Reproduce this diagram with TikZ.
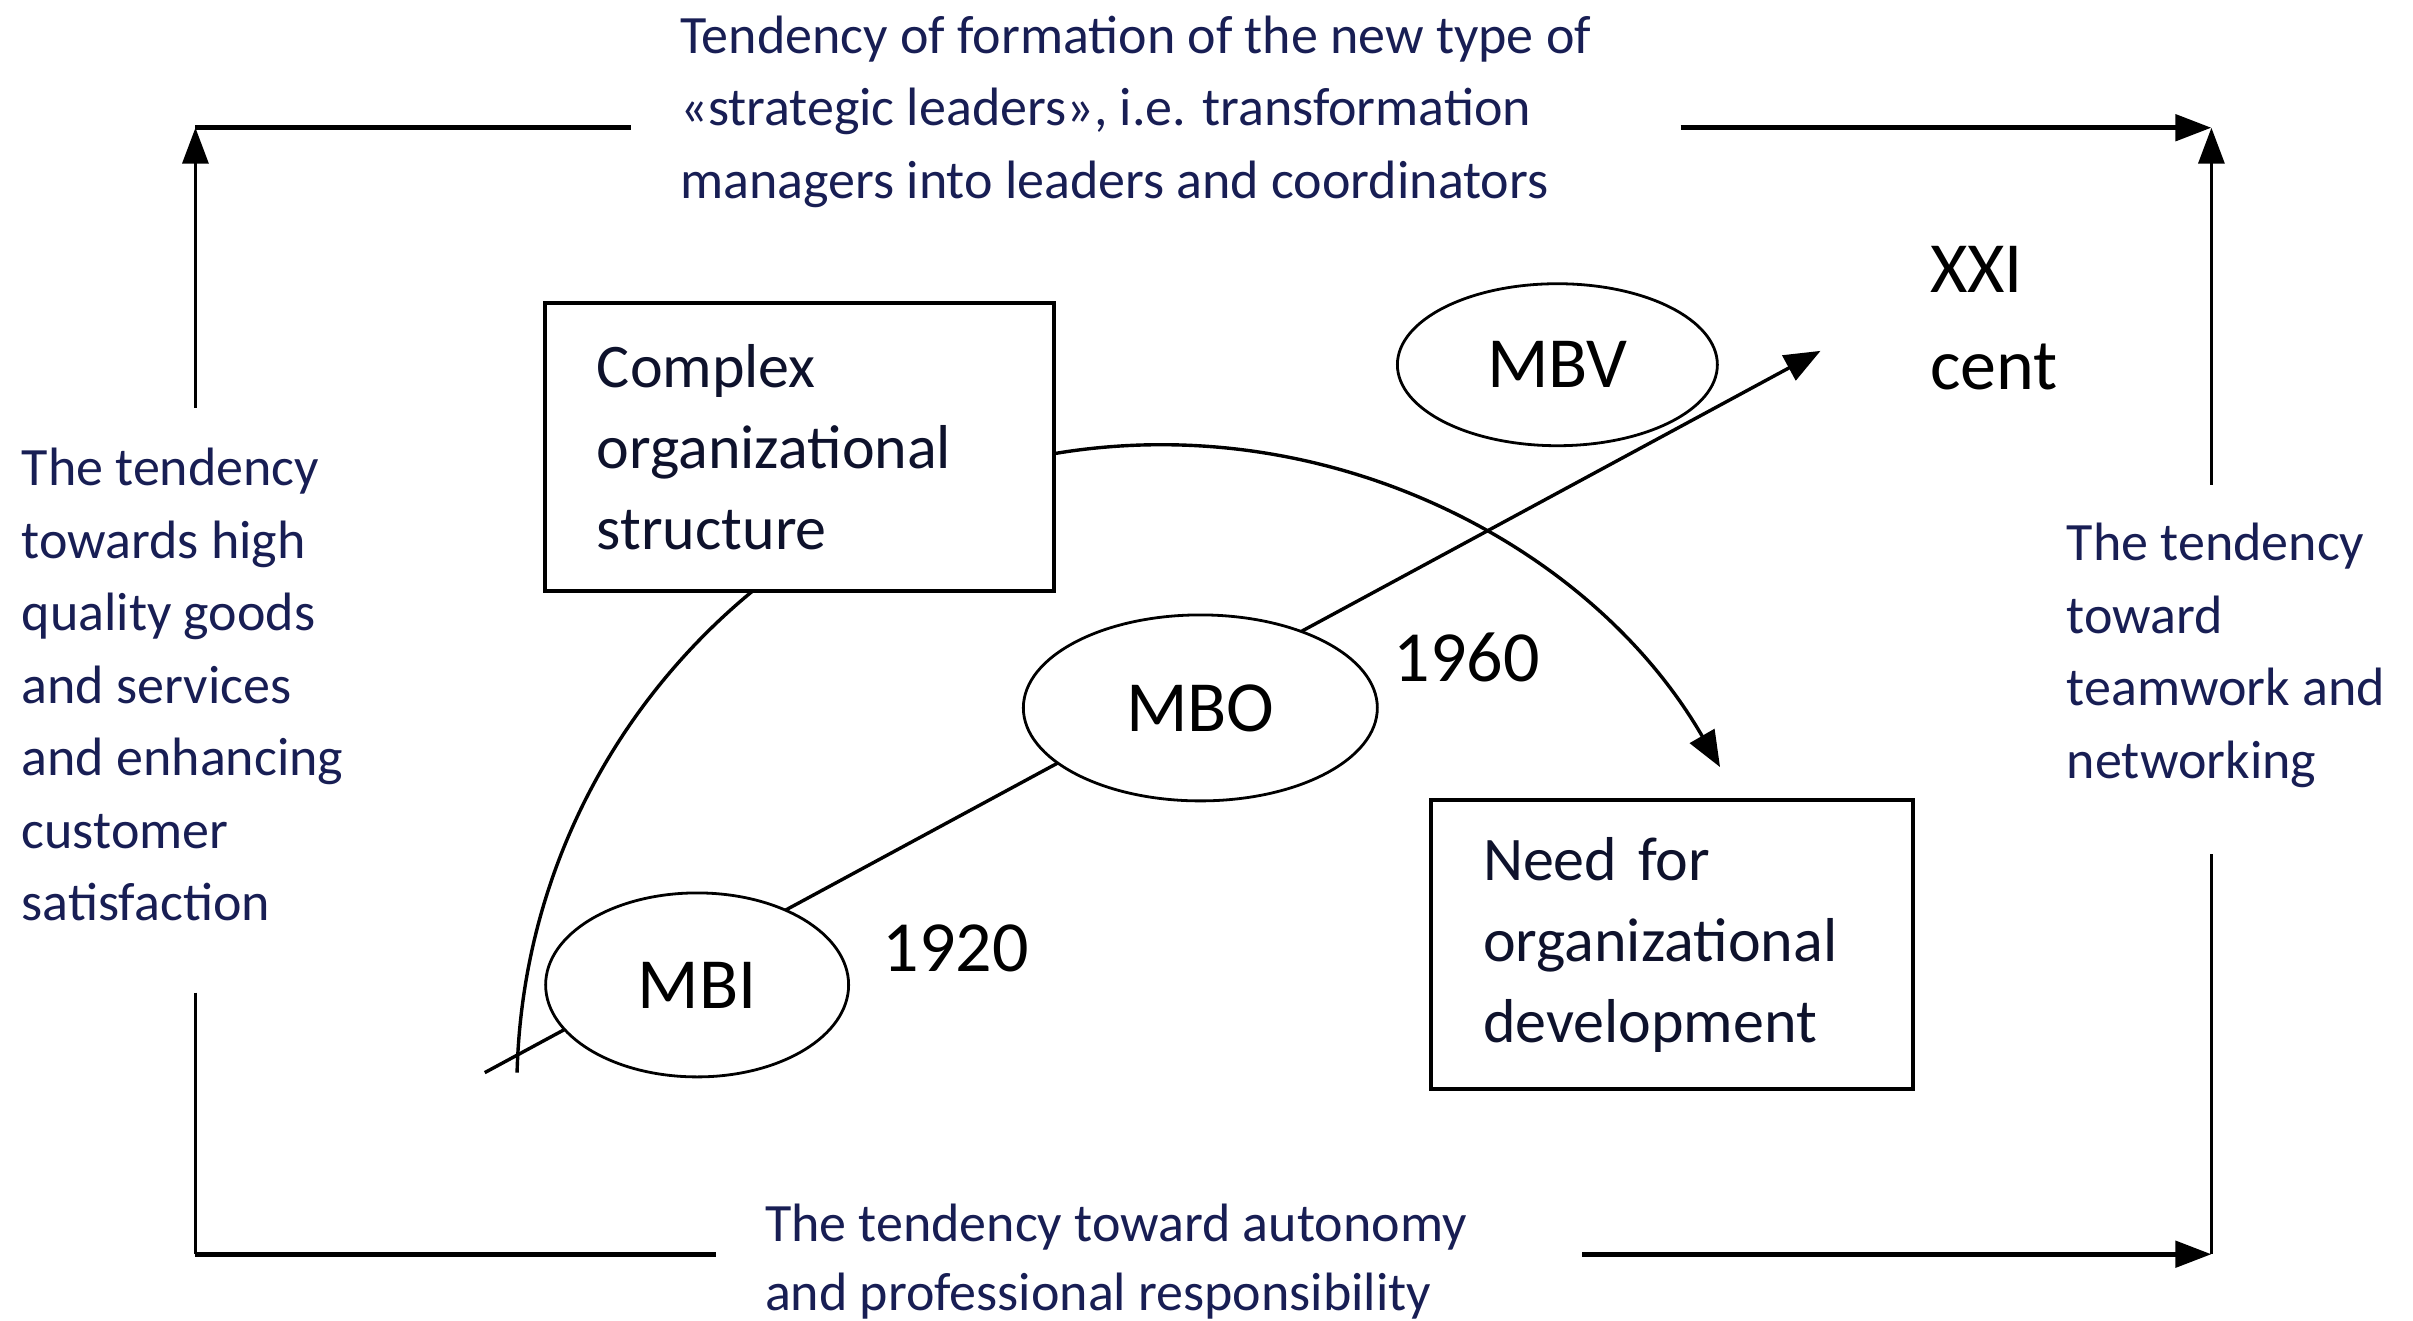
\documentclass[tikz,border=0pt]{standalone}
\usepackage{fontspec}
\setmainfont{Carlito}
\usetikzlibrary{arrows.meta,shapes.geometric}
\definecolor{tendblue}{RGB}{24,30,84}
\definecolor{boxink}{RGB}{14,18,44}
\begin{document}
\begin{tikzpicture}[x=1.539pt,y=-1.539pt,
  frameh/.style={line width=5pt},
  framev/.style={line width=3.5pt},
  frametip/.style={-{Triangle[length=36pt,width=26pt]}},
  conn/.style={line width=3.4pt},
  conntip/.style={-{Triangle[length=36pt,width=28pt]}},
  tendtext/.style={anchor=north west,inner sep=0pt,align=left,text=tendblue,
    font=\fontsize{54pt}{72.5pt}\selectfont},
  boxnode/.style={draw,line width=4pt,fill=white,align=left,text=boxink,
    inner xsep=52pt,inner ysep=0pt,font=\fontsize{62pt}{81pt}\selectfont},
  era/.style={draw,ellipse,fill=white,line width=2.8pt,inner sep=0pt,
    font=\fontsize{72pt}{80pt}\selectfont},
  yeartext/.style={inner sep=0pt,font=\fontsize{72pt}{97pt}\selectfont}
]
\useasboundingbox[fill=white] (0,0) rectangle (1568,858);

% frame coordinates
\coordinate (tl) at (127,83);
\coordinate (tr) at (1437,83);
\coordinate (bl) at (127,815);
\coordinate (br) at (1437,815);
\coordinate (lup) at (127,265);
\coordinate (ldn) at (127,645);
\coordinate (topA) at (410,83);
\coordinate (topB) at (1092,83);
\coordinate (botA) at (465,815);
\coordinate (botB) at (1028,815);
\coordinate (rup) at (1437,315);
\coordinate (rdn) at (1437,555);

\draw[framev,frametip] (lup) -- (tl);
\draw[frameh] (tl) -- (topA);
\draw[frameh,frametip] (topB) -- (tr);
\draw[framev,frametip] (rup) -- (tr);
\draw[framev] (ldn) -- (bl);
\draw[frameh] (bl) -- (botA);
\draw[frameh,frametip] (botB) -- (br);
\draw[framev] (rdn) -- (br);

% straight time line and curved arrow
\coordinate (ls) at (315,697);
\coordinate (lt) at (1183,228);
\draw[conn,conntip] (ls) -- (lt);
\coordinate (as) at (336,697);
\draw[conn,conntip] (as) arc[start angle=181.5,end angle=330,radius=419];

% ellipses
\node[era,minimum width=320pt,minimum height=162pt] (MBV) at (1012,237) {MBV};
\node[era,minimum width=354pt,minimum height=186pt] (MBO) at (780,460) {MBO};
\node[era,minimum width=303pt,minimum height=184pt] (MBI) at (453,640) {MBI};

% boxes
\node[boxnode,minimum width=509pt,minimum height=288pt,text width=405pt]
  (complex) at (519.5,290.5) {Complex\\organizational\\structure};
\node[boxnode,minimum width=482pt,minimum height=289pt,text width=378pt]
  (need) at (1086.5,614) {Need for\\organizational\\development};

% labels
\node[yeartext] (y1960) at (953,427) {1960};
\node[yeartext] (y1920) at (621,616) {1920};
\node[yeartext,anchor=north west,align=left] (xxi) at (1254,160) {XXI\\cent};

% tendency texts
\node[tendtext] (toptext) at (442,10) {Tendency of formation of the new type of\\«strategic leaders», i.e. transformation\\managers into leaders and coordinators};
\node[tendtext] (lefttext) at (14,291) {The tendency\\towards high\\quality goods\\and services\\and enhancing\\customer\\satisfaction};
\node[tendtext] (righttext) at (1343,340) {The tendency\\toward\\teamwork and\\networking};
\node[tendtext,font=\fontsize{54pt}{69pt}\selectfont] (bottext) at (497,782) {The tendency toward autonomy\\and professional responsibility};
\end{tikzpicture}
\end{document}
